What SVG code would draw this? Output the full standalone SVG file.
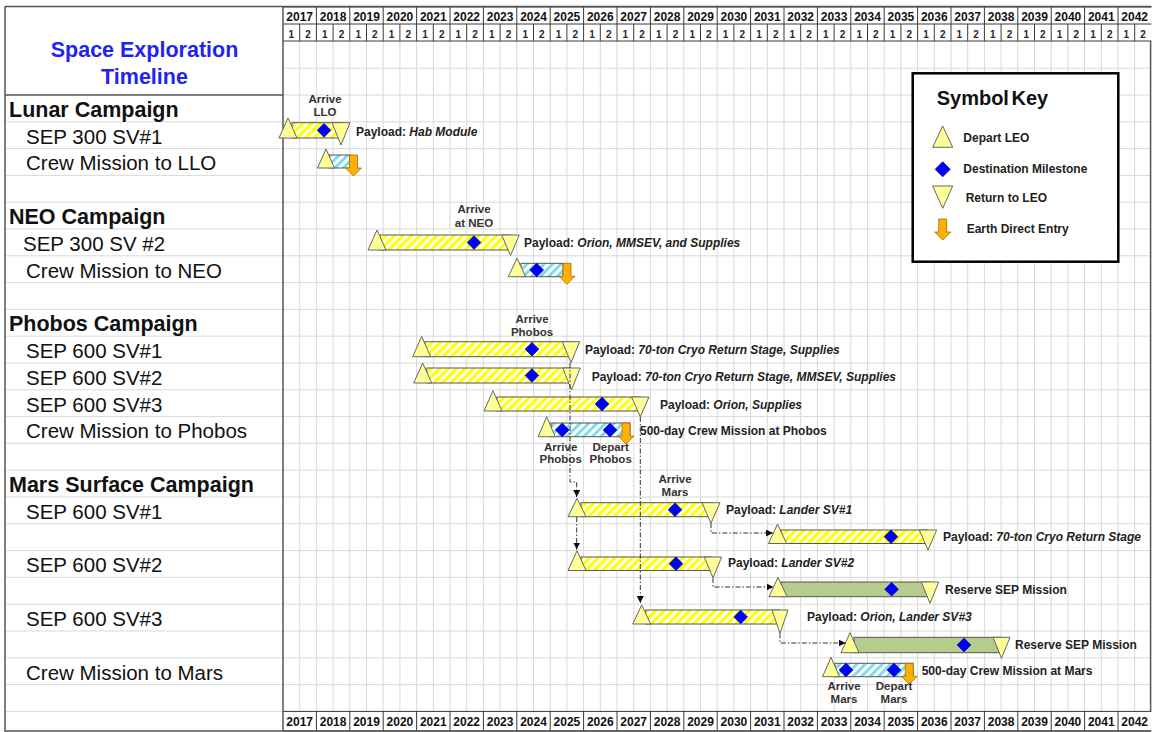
<svg xmlns="http://www.w3.org/2000/svg" xmlns:xlink="http://www.w3.org/1999/xlink" width="1154" height="732" viewBox="0 0 1154 732">
<style>
text{font-family:"Liberation Sans",Arial,sans-serif}
.grid{stroke:#d9d9d9;stroke-width:1;fill:none}
.hdr{stroke:#3a3a3a;stroke-width:1;fill:none}
.frame{stroke:#555;stroke-width:1.5;fill:none}
.yr{font-weight:bold;font-size:12px;text-anchor:middle;fill:#111}
.hy{font-weight:bold;font-size:10px;text-anchor:middle;fill:#2a2040}
.camp{font-weight:bold;font-size:21.5px;fill:#111}
.item{font-size:20.5px;fill:#111}
.title{font-weight:bold;font-size:21.5px;fill:#2323f0;text-anchor:middle}
.by{fill:url(#hy);stroke:#555;stroke-width:1}
.bc{fill:url(#hc);stroke:#555;stroke-width:1}
.bg{fill:#b6cb8e;stroke:#555;stroke-width:1}
.tri{fill:#ffff99;stroke:#666;stroke-width:1}
.dia{fill:#0000ff;stroke:#00008b;stroke-width:0.8}
.ede{fill:#ffb000;stroke:#a86a00;stroke-width:0.8}
.pl{font-weight:bold;font-size:12px;fill:#222}
.it{font-style:italic}
.lbl{font-weight:bold;font-size:11.5px;fill:#333;text-anchor:middle}
.key{font-weight:bold;font-size:12px;fill:#222}
.conn{fill:none;stroke:#333;stroke-width:1;stroke-dasharray:5 2 1.5 2}
</style>
<defs>
<pattern id="hy" patternUnits="userSpaceOnUse" width="6" height="6" patternTransform="rotate(45)">
<rect width="6" height="6" fill="#ffffee"/><rect width="3" height="6" fill="#ffff00"/>
</pattern>
<pattern id="hc" patternUnits="userSpaceOnUse" width="6" height="6" patternTransform="rotate(45)">
<rect width="6" height="6" fill="#ffffff"/><rect width="3" height="6" fill="#7fdcee"/>
</pattern>
<polygon id="dm" class="dia" points="0,-6.8 6.8,0 0,6.8 -6.8,0"/>
<polygon id="ar" class="ede" points="-4,0 4,0 4,13 8,13 0,21 -8,13 -4,13"/>
<marker id="ah" viewBox="0 0 10 10" refX="10" refY="5" markerWidth="7" markerHeight="7" markerUnits="userSpaceOnUse" orient="auto">
<path d="M0,0 L10,5 L0,10 z" fill="#111"/>
</marker>
</defs>
<rect width="1154" height="732" fill="#fff"/>

<g id="grid">
<path class="grid" d="M299.7,41V711.4M316.4,41V711.4M333.1,41V711.4M349.8,41V711.4M366.5,41V711.4M383.2,41V711.4M399.9,41V711.4M416.6,41V711.4M433.3,41V711.4M450,41V711.4M466.7,41V711.4M483.4,41V711.4M500.1,41V711.4M516.8,41V711.4M533.5,41V711.4M550.2,41V711.4M566.9,41V711.4M583.6,41V711.4M600.3,41V711.4M617,41V711.4M633.7,41V711.4M650.4,41V711.4M667.1,41V711.4M683.8,41V711.4M700.5,41V711.4M717.2,41V711.4M733.9,41V711.4M750.6,41V711.4M767.3,41V711.4M784,41V711.4M800.7,41V711.4M817.4,41V711.4M834.1,41V711.4M850.8,41V711.4M867.5,41V711.4M884.2,41V711.4M900.9,41V711.4M917.6,41V711.4M934.3,41V711.4M951,41V711.4M967.7,41V711.4M984.4,41V711.4M1001.1,41V711.4M1017.8,41V711.4M1034.5,41V711.4M1051.2,41V711.4M1067.9,41V711.4M1084.6,41V711.4M1101.3,41V711.4M1118,41V711.4M1134.7,41V711.4"/>
<path class="grid" d="M283,68.2H1151M283,95H1151M5,121.8H1151M5,148.6H1151M5,175.4H1151M5,202.2H1151M5,229H1151M5,255.8H1151M5,282.6H1151M5,309.4H1151M5,336.2H1151M5,363H1151M5,389.8H1151M5,416.6H1151M5,443.4H1151M5,470.2H1151M5,497H1151M5,523.8H1151M5,550.6H1151M5,577.4H1151M5,604.2H1151M5,631H1151M5,657.8H1151M5,684.6H1151M5,711.4H283"/>
</g>

<g id="header">
<path class="hdr" d="M283,7H1151.4M283,24H1151.4M283,41H1151.4M283,711.4H1151.4M283,731H1151.4"/>
<path class="hdr" d="M316.4,7V41M349.8,7V41M383.2,7V41M416.6,7V41M450,7V41M483.4,7V41M516.8,7V41M550.2,7V41M583.6,7V41M617,7V41M650.4,7V41M683.8,7V41M717.2,7V41M750.6,7V41M784,7V41M817.4,7V41M850.8,7V41M884.2,7V41M917.6,7V41M951,7V41M984.4,7V41M1017.8,7V41M1051.2,7V41M1084.6,7V41M1118,7V41"/>
<path class="hdr" d="M299.7,24V41M333.1,24V41M366.5,24V41M399.9,24V41M433.3,24V41M466.7,24V41M500.1,24V41M533.5,24V41M566.9,24V41M600.3,24V41M633.7,24V41M667.1,24V41M700.5,24V41M733.9,24V41M767.3,24V41M800.7,24V41M834.1,24V41M867.5,24V41M900.9,24V41M934.3,24V41M967.7,24V41M1001.1,24V41M1034.5,24V41M1067.9,24V41M1101.3,24V41M1134.7,24V41"/>
<path class="hdr" d="M316.4,711.4V731M349.8,711.4V731M383.2,711.4V731M416.6,711.4V731M450,711.4V731M483.4,711.4V731M516.8,711.4V731M550.2,711.4V731M583.6,711.4V731M617,711.4V731M650.4,711.4V731M683.8,711.4V731M717.2,711.4V731M750.6,711.4V731M784,711.4V731M817.4,711.4V731M850.8,711.4V731M884.2,711.4V731M917.6,711.4V731M951,711.4V731M984.4,711.4V731M1017.8,711.4V731M1051.2,711.4V731M1084.6,711.4V731M1118,711.4V731"/>
<g class="yr">
<text x="299.7" y="21">2017</text><text x="333.1" y="21">2018</text><text x="366.5" y="21">2019</text><text x="399.9" y="21">2020</text><text x="433.3" y="21">2021</text><text x="466.7" y="21">2022</text><text x="500.1" y="21">2023</text><text x="533.5" y="21">2024</text><text x="566.9" y="21">2025</text><text x="600.3" y="21">2026</text><text x="633.7" y="21">2027</text><text x="667.1" y="21">2028</text><text x="700.5" y="21">2029</text><text x="733.9" y="21">2030</text><text x="767.3" y="21">2031</text><text x="800.7" y="21">2032</text><text x="834.1" y="21">2033</text><text x="867.5" y="21">2034</text><text x="900.9" y="21">2035</text><text x="934.3" y="21">2036</text><text x="967.7" y="21">2037</text><text x="1001.1" y="21">2038</text><text x="1034.5" y="21">2039</text><text x="1067.9" y="21">2040</text><text x="1101.3" y="21">2041</text><text x="1134.7" y="21">2042</text>
</g>
<g class="yr">
<text x="299.7" y="726">2017</text><text x="333.1" y="726">2018</text><text x="366.5" y="726">2019</text><text x="399.9" y="726">2020</text><text x="433.3" y="726">2021</text><text x="466.7" y="726">2022</text><text x="500.1" y="726">2023</text><text x="533.5" y="726">2024</text><text x="566.9" y="726">2025</text><text x="600.3" y="726">2026</text><text x="633.7" y="726">2027</text><text x="667.1" y="726">2028</text><text x="700.5" y="726">2029</text><text x="733.9" y="726">2030</text><text x="767.3" y="726">2031</text><text x="800.7" y="726">2032</text><text x="834.1" y="726">2033</text><text x="867.5" y="726">2034</text><text x="900.9" y="726">2035</text><text x="934.3" y="726">2036</text><text x="967.7" y="726">2037</text><text x="1001.1" y="726">2038</text><text x="1034.5" y="726">2039</text><text x="1067.9" y="726">2040</text><text x="1101.3" y="726">2041</text><text x="1134.7" y="726">2042</text>
</g>
<g class="hy">
<text x="291.4" y="38">1</text><text x="308.1" y="38">2</text><text x="324.8" y="38">1</text><text x="341.5" y="38">2</text><text x="358.2" y="38">1</text><text x="374.9" y="38">2</text><text x="391.6" y="38">1</text><text x="408.3" y="38">2</text><text x="425" y="38">1</text><text x="441.7" y="38">2</text><text x="458.4" y="38">1</text><text x="475.1" y="38">2</text><text x="491.8" y="38">1</text><text x="508.5" y="38">2</text><text x="525.2" y="38">1</text><text x="541.9" y="38">2</text><text x="558.6" y="38">1</text><text x="575.3" y="38">2</text><text x="592" y="38">1</text><text x="608.7" y="38">2</text><text x="625.4" y="38">1</text><text x="642.1" y="38">2</text><text x="658.8" y="38">1</text><text x="675.5" y="38">2</text><text x="692.2" y="38">1</text><text x="708.9" y="38">2</text><text x="725.6" y="38">1</text><text x="742.3" y="38">2</text><text x="759" y="38">1</text><text x="775.7" y="38">2</text><text x="792.4" y="38">1</text><text x="809.1" y="38">2</text><text x="825.8" y="38">1</text><text x="842.5" y="38">2</text><text x="859.2" y="38">1</text><text x="875.9" y="38">2</text><text x="892.6" y="38">1</text><text x="909.3" y="38">2</text><text x="926" y="38">1</text><text x="942.7" y="38">2</text><text x="959.4" y="38">1</text><text x="976.1" y="38">2</text><text x="992.8" y="38">1</text><text x="1009.5" y="38">2</text><text x="1026.2" y="38">1</text><text x="1042.9" y="38">2</text><text x="1059.6" y="38">1</text><text x="1076.3" y="38">2</text><text x="1093" y="38">1</text><text x="1109.7" y="38">2</text><text x="1126.4" y="38">1</text><text x="1143.1" y="38">2</text>
</g>
</g>

<g id="frame">
<path class="frame" d="M5,6.5H1151.4M5,6.5V731H1151M283,6.5V731M1150.6,41V711.4M5,95H283"/>
</g>

<g id="labels">
<text class="title" x="144.5" y="57">Space Exploration</text>
<text class="title" x="144.5" y="83.5">Timeline</text>
<text class="camp" x="9" y="116.8">Lunar Campaign</text>
<text class="item" x="26" y="143.6">SEP 300 SV#1</text>
<text class="item" x="26" y="170.4">Crew Mission to LLO</text>
<text class="camp" x="9" y="224">NEO Campaign</text>
<text class="item" x="23" y="250.8">SEP 300 SV #2</text>
<text class="item" x="26" y="277.6">Crew Mission to NEO</text>
<text class="camp" x="9" y="331.2">Phobos Campaign</text>
<text class="item" x="26" y="358">SEP 600 SV#1</text>
<text class="item" x="26" y="384.8">SEP 600 SV#2</text>
<text class="item" x="26" y="411.6">SEP 600 SV#3</text>
<text class="item" x="26" y="438.4">Crew Mission to Phobos</text>
<text class="camp" x="9" y="492">Mars Surface Campaign</text>
<text class="item" x="26" y="518.8">SEP 600 SV#1</text>
<text class="item" x="26" y="572.4">SEP 600 SV#2</text>
<text class="item" x="26" y="626">SEP 600 SV#3</text>
<text class="item" x="26" y="679.6">Crew Mission to Mars</text>
</g>

<g id="lunar-sv1">
<rect class="by" x="292" y="122.7" width="49" height="15.3"/>
<polygon class="tri" points="332,122.7 350,122.7 341,145"/>
<polygon class="tri" points="288,118 279,138 297,138"/>
<use xlink:href="#dm" x="324" y="130.3"/>
<text class="lbl" x="325" y="103">Arrive</text><text class="lbl" x="325" y="116">LLO</text>
<text class="pl" x="356" y="136">Payload: <tspan class="it">Hab Module</tspan></text>
</g>
<g id="lunar-crew">
<rect class="bc" x="329" y="155" width="21" height="13"/>
<polygon class="tri" points="326,149 317.5,168 334.5,168"/>
<use xlink:href="#ar" x="353.5" y="155"/>
</g>

<g id="neo-sv2">
<rect class="by" x="380" y="235" width="130.5" height="15"/>
<polygon class="tri" points="501.7,235 519.3,235 510.5,255.5"/>
<polygon class="tri" points="377,230 368,250 386,250"/>
<use xlink:href="#dm" x="474" y="242.5"/>
<text class="lbl" x="474" y="213.3">Arrive</text><text class="lbl" x="474" y="226.7">at NEO</text>
<text class="pl" x="524" y="247">Payload: <tspan class="it">Orion, MMSEV, and Supplies</tspan></text>
</g>
<g id="neo-crew">
<rect class="bc" x="521" y="263.3" width="42" height="13.4"/>
<polygon class="tri" points="517,258.3 508.3,276.7 525.7,276.7"/>
<use xlink:href="#dm" x="536.7" y="270"/>
<use xlink:href="#ar" x="567" y="263.3"/>
</g>

<g id="phobos-sv1">
<rect class="by" x="425" y="341.7" width="145" height="15"/>
<polygon class="tri" points="562.3,341.7 579.7,341.7 571,362.7"/>
<polygon class="tri" points="421.7,336.3 412.7,356.7 430.7,356.7"/>
<use xlink:href="#dm" x="532" y="349.2"/>
<text class="lbl" x="532" y="322.7">Arrive</text><text class="lbl" x="532" y="336">Phobos</text>
<text class="pl" x="585" y="354">Payload: <tspan class="it">70-ton Cryo Return Stage, Supplies</tspan></text>
</g>
<g id="phobos-sv2">
<rect class="by" x="426.7" y="368" width="144" height="15"/>
<polygon class="tri" points="562.8,368 580.2,368 571.5,390"/>
<polygon class="tri" points="422.7,363 413.7,383 431.7,383"/>
<use xlink:href="#dm" x="532" y="375.5"/>
<text class="pl" x="591.7" y="381">Payload: <tspan class="it">70-ton Cryo Return Stage, MMSEV, Supplies</tspan></text>
</g>
<g id="phobos-sv3">
<rect class="by" x="497" y="397" width="143" height="14"/>
<polygon class="tri" points="631.6,397 649,397 640.3,416.7"/>
<polygon class="tri" points="493,390.7 484,411 502,411"/>
<use xlink:href="#dm" x="602" y="404"/>
<text class="pl" x="660" y="408.5">Payload: <tspan class="it">Orion, Supplies</tspan></text>
</g>
<g id="phobos-crew">
<rect class="bc" x="551" y="423" width="79" height="13.7"/>
<polygon class="tri" points="546.7,416.7 538.2,436.7 555.2,436.7"/>
<use xlink:href="#dm" x="562.3" y="430"/>
<use xlink:href="#dm" x="610" y="430"/>
<use xlink:href="#ar" x="626" y="423"/>
<text class="pl" x="640" y="435">500-day Crew Mission at Phobos</text>
</g>

<g id="mars-sv1">
<rect class="by" x="581" y="502.7" width="129" height="14"/>
<polygon class="tri" points="702,502.7 720,502.7 711,523.3"/>
<polygon class="tri" points="577,498.3 568,516.7 586,516.7"/>
<use xlink:href="#dm" x="675" y="509.7"/>
<text class="lbl" x="675" y="483.3">Arrive</text><text class="lbl" x="675" y="496">Mars</text>
<text class="pl" x="726" y="514">Payload: <tspan class="it">Lander SV#1</tspan></text>
</g>
<g id="mars-sv1-return">
<rect class="by" x="781" y="530" width="146" height="13.5"/>
<polygon class="tri" points="919.3,530 936.7,530 928,550"/>
<polygon class="tri" points="777.5,524 768.5,543.5 786.5,543.5"/>
<use xlink:href="#dm" x="891" y="536.7"/>
<text class="pl" x="943" y="541">Payload: <tspan class="it">70-ton Cryo Return Stage</tspan></text>
</g>
<g id="mars-sv2">
<rect class="by" x="581" y="557" width="131" height="13.5"/>
<polygon class="tri" points="704.3,557 721.7,557 713,577.8"/>
<polygon class="tri" points="577,550.8 568,570.5 586,570.5"/>
<use xlink:href="#dm" x="676" y="563.7"/>
<text class="pl" x="728" y="567">Payload: <tspan class="it">Lander SV#2</tspan></text>
</g>
<g id="mars-sv2-reserve">
<rect class="bg" x="781" y="582" width="148" height="14.7"/>
<polygon class="tri" points="921.3,582 938.7,582 930,603.3"/>
<polygon class="tri" points="778,577.3 769,596.7 787,596.7"/>
<use xlink:href="#dm" x="891.6" y="589.3"/>
<text class="pl" x="945" y="594">Reserve SEP Mission</text>
</g>
<g id="mars-sv3">
<rect class="by" x="645.7" y="610" width="134" height="14"/>
<polygon class="tri" points="772,610 788,610 780,633.3"/>
<polygon class="tri" points="641.7,605 632.7,624 650.7,624"/>
<use xlink:href="#dm" x="740.7" y="617"/>
<text class="pl" x="807" y="621">Payload: <tspan class="it">Orion, Lander SV#3</tspan></text>
</g>
<g id="mars-sv3-reserve">
<rect class="bg" x="854" y="637.3" width="147" height="15.4"/>
<polygon class="tri" points="993,637.3 1010,637.3 1001.5,658.3"/>
<polygon class="tri" points="850,632.7 841,652.7 859,652.7"/>
<use xlink:href="#dm" x="964" y="645"/>
<text class="pl" x="1015" y="649">Reserve SEP Mission</text>
</g>
<g id="mars-crew">
<rect class="bc" x="835" y="663.3" width="78" height="13.4"/>
<polygon class="tri" points="831,657.3 822.5,676.7 839.5,676.7"/>
<use xlink:href="#dm" x="846" y="670"/>
<use xlink:href="#dm" x="894" y="670"/>
<use xlink:href="#ar" x="909.3" y="663.3"/>
<text class="pl" x="921.7" y="674.5">500-day Crew Mission at Mars</text>
</g>

<g id="connectors">
<path class="conn" d="M570,363V482H576.7V497" marker-end="url(#ah)"/>
<path class="conn" d="M576.7,517V549.5" marker-end="url(#ah)"/>
<path class="conn" d="M711,523.3V533H773" marker-end="url(#ah)"/>
<path class="conn" d="M713,578V587H773.5" marker-end="url(#ah)"/>
<path class="conn" d="M640.3,417V603" marker-end="url(#ah)"/>
<path class="conn" d="M780,633.3V643H845.5" marker-end="url(#ah)"/>
</g>

<g id="crew-labels">
<text class="lbl" x="560.7" y="450.5">Arrive</text><text class="lbl" x="560.7" y="463.3">Phobos</text>
<text class="lbl" x="610.7" y="450.5">Depart</text><text class="lbl" x="610.7" y="463.3">Phobos</text>
<text class="lbl" x="844" y="690">Arrive</text><text class="lbl" x="844" y="703">Mars</text>
<text class="lbl" x="894" y="690">Depart</text><text class="lbl" x="894" y="703">Mars</text>
</g>

<g id="symbol-key">
<rect x="912.7" y="73.3" width="205.6" height="188.4" fill="#fff" stroke="#000" stroke-width="2.5"/>
<text x="936.7" y="105" font-weight="bold" font-size="20px" fill="#111" word-spacing="-3">Symbol Key</text>
<polygon class="tri" points="942.7,126 932.7,147.3 952.7,147.3"/>
<text class="key" x="963.3" y="142">Depart LEO</text>
<polygon class="dia" points="942.7,161.8 950.2,169.3 942.7,176.8 935.2,169.3"/>
<text class="key" x="963.3" y="173.3">Destination Milestone</text>
<polygon class="tri" points="932.7,186 952.7,186 942.7,208.3"/>
<text class="key" x="965.7" y="202.3">Return to LEO</text>
<use xlink:href="#ar" x="942.7" y="219"/>
<text class="key" x="966.7" y="233.3">Earth Direct Entry</text>
</g>
</svg>
